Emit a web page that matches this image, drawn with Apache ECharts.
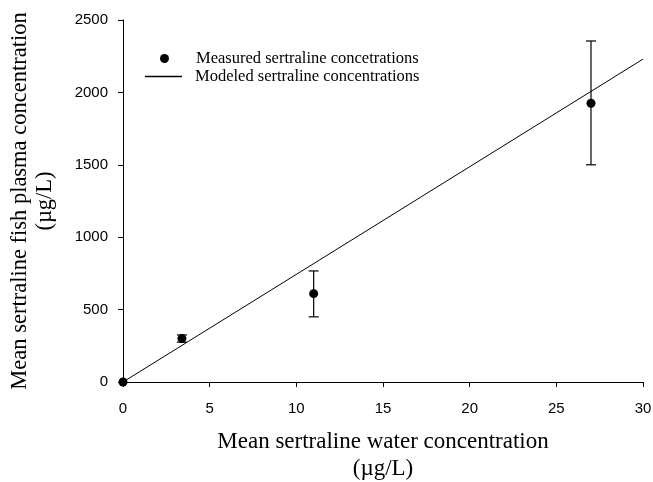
<!DOCTYPE html>
<html lang="en">
<head>
    <meta charset="UTF-8">
    <title>Sertraline</title>
    <script src="https://cdn.jsdelivr.net/npm/echarts@6/dist/echarts.min.js"></script>
    <style>
        body { margin: 0; background: #fff; }
    </style>
</head>
<body>
<div id="main" style="width: 653px;height:482px;"></div>
<script type="text/javascript">
// measured points (water conc, plasma conc) with error bars
var measuredX = [0, 3.4, 11, 27];
var measuredY = [0, 300, 610, 1925];
var errLow = [0, 275, 450, 1500];
var errHigh = [0, 325, 767, 2355];
// modeled line
var modelX = [0, 30];
var modelY = [0, 2230];

var xTicks = [0, 5, 10, 15, 20, 25, 30];
var yTicks = [0, 500, 1000, 1500, 2000, 2500];

var pts = [], bars = [], model = [];
for (var i = 0; i < measuredX.length; i++) {
    pts.push([measuredX[i], measuredY[i]]);
    bars.push([measuredX[i], errLow[i], errHigh[i]]);
}
for (var j = 0; j < modelX.length; j++) {
    model.push([modelX[j], modelY[j]]);
}

var legendText = { fontFamily: 'Liberation Serif', fontSize: 16.5, color: '#000', padding: [0, 0, 0, 8] };

var myChart = echarts.init(document.getElementById('main'));
myChart.setOption({
    animation: false,
    backgroundColor: '#fff',
    grid: { left: 123, right: 10, top: 20, bottom: 100, outerBoundsMode: 'none', containLabel: false },
    legend: [
        {
            left: 155, top: 45,
            itemWidth: 37, itemHeight: 9,
            textStyle: legendText,
            data: [{ name: 'Measured sertraline concetrations', icon: 'circle' }]
        },
        {
            left: 140, top: 63,
            itemWidth: 37, itemHeight: 1.5,
            textStyle: legendText,
            data: [{ name: 'Modeled sertraline concentrations', icon: 'rect' }]
        }
    ],
    xAxis: {
        type: 'value',
        min: xTicks[0],
        max: xTicks[xTicks.length - 1],
        interval: 5,
        name: 'Mean sertraline water concentration\n(µg/L)',
        nameLocation: 'middle',
        nameGap: 46,
        nameTextStyle: { fontFamily: 'Liberation Serif', fontSize: 23, color: '#000', lineHeight: 27 },
        axisLine: { lineStyle: { color: '#000', width: 1 } },
        axisTick: { inside: false, length: 5, lineStyle: { color: '#000' } },
        axisLabel: { fontFamily: 'Liberation Sans', fontSize: 15, color: '#000', margin: 19, formatter: function (v) { return String(v); } },
        splitLine: { show: false }
    },
    yAxis: {
        type: 'value',
        min: yTicks[0],
        max: yTicks[yTicks.length - 1],
        interval: 500,
        name: 'Mean sertraline fish plasma concentration\n(µg/L)',
        nameLocation: 'middle',
        nameRotate: 90,
        nameGap: 65,
        nameTextStyle: { fontFamily: 'Liberation Serif', fontSize: 22.5, color: '#000', lineHeight: 25 },
        axisLine: { show: true, lineStyle: { color: '#000', width: 1 } },
        axisTick: { show: true, inside: false, length: 5, lineStyle: { color: '#000' } },
        axisLabel: { fontFamily: 'Liberation Sans', fontSize: 15, color: '#000', margin: 15, formatter: function (v) { return String(v); } },
        splitLine: { show: false }
    },
    series: [
        {
            name: 'Modeled sertraline concentrations',
            type: 'line',
            symbol: 'none',
            data: model,
            lineStyle: { color: '#000', width: 1 },
            itemStyle: { color: '#000' },
            z: 2
        },
        {
            name: 'errbars',
            type: 'custom',
            data: bars,
            z: 3,
            renderItem: function (params, api) {
                var x = api.value(0);
                var lo = api.coord([x, api.value(1)]);
                var hi = api.coord([x, api.value(2)]);
                if (Math.abs(hi[1] - lo[1]) < 1) return null;
                var w = 5;
                var st = { stroke: '#000', lineWidth: 1.2, fill: null };
                return {
                    type: 'group',
                    children: [
                        { type: 'line', shape: { x1: lo[0], y1: lo[1], x2: hi[0], y2: hi[1] }, style: st },
                        { type: 'line', shape: { x1: lo[0] - w, y1: lo[1], x2: lo[0] + w, y2: lo[1] }, style: st },
                        { type: 'line', shape: { x1: hi[0] - w, y1: hi[1], x2: hi[0] + w, y2: hi[1] }, style: st }
                    ]
                };
            }
        },
        {
            name: 'Measured sertraline concetrations',
            type: 'scatter',
            symbol: 'circle',
            symbolSize: 9,
            data: pts,
            itemStyle: { color: '#000', opacity: 1 },
            z: 4
        }
    ]
});
</script>
</body>
</html>
